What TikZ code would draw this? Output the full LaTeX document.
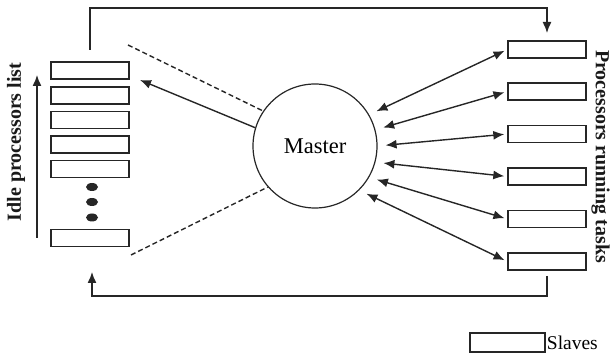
\documentclass[tikz,border=0pt]{standalone}
\usepackage{fontspec}
\setmainfont{Liberation Serif}
\usetikzlibrary{arrows.meta,calc}
\begin{document}
\begin{tikzpicture}[x=1pt,y=1pt,
  ink/.style={draw=black!85},
  slot/.style={ink,line width=1.4pt,rectangle,minimum width=78pt,minimum height=17pt,inner sep=0pt},
  conn/.style={ink,line width=1.4pt},
  tip/.style={-{Latex[length=11pt,width=9pt]}},
  dtip/.style={{Latex[length=11pt,width=9pt]}-{Latex[length=11pt,width=9pt]}},
  lbl/.style={font=\bfseries\fontsize{20}{22}\selectfont,text=black!90,inner sep=0pt}
]
\useasboundingbox (0,0) rectangle (612,353);
% left idle list
\node[slot] (L1) at (90,282.5) {};
\node[slot] (L2) at (90,257.5) {};
\node[slot] (L3) at (90,233) {};
\node[slot] (L4) at (90,208.5) {};
\node[slot] (L5) at (90,184) {};
\node[slot] (L6) at (90,115) {};
\fill[black!85] (92,166) ellipse (6pt and 4pt);
\fill[black!85] (92,151) ellipse (6pt and 4pt);
\fill[black!85] (92,135.5) ellipse (6pt and 4pt);
% right running list
\node[slot] (R1) at (547,303.5) {};
\node[slot] (R2) at (547,261.5) {};
\node[slot] (R3) at (547,219) {};
\node[slot] (R4) at (547,176.5) {};
\node[slot] (R5) at (547,134) {};
\node[slot] (R6) at (547,91.5) {};
% master
\node[ink,line width=1.2pt,circle,minimum size=124pt,inner sep=0pt,font=\fontsize{22.5}{24}\selectfont] (M) at (315,207) {Master};
% labels
\node[lbl,rotate=90] (idle) at (16,211) {Idle processors list};
\node[lbl,rotate=-90] (run) at (600.5,196.5) {Processors running tasks};
% legend
\node[ink,line width=1.4pt,rectangle,minimum width=75pt,minimum height=19pt,inner sep=0pt] (leg) at (507.5,10.5) {};
\node[anchor=west,inner sep=0pt,font=\fontsize{19.5}{24}\selectfont] (slaves) at ([xshift=1pt]leg.east) {Slaves};
% coordinates
\coordinate (t0) at (90,303);
\coordinate (t1) at (90,345);
\coordinate (t2) at (547,345);
\coordinate (t3) at (547,320);
\coordinate (b0) at (547,77);
\coordinate (b1) at (547,57);
\coordinate (b2) at (92,57);
\coordinate (b3) at (92,81);
\coordinate (a0) at (37,115);
\coordinate (a1) at (37,278);
\coordinate (d1) at (128,308);
\coordinate (d2) at (131,98);
\coordinate (lt) at (140,273);
% connectors
\draw[conn,tip] (t0) -- (t1) -- (t2) -- (t3);
\draw[conn,tip] (b0) -- (b1) -- (b2) -- (b3);
\draw[conn,tip] (a0) -- (a1);
\draw[conn,dashed,dash pattern=on 5pt off 3pt] (d1) -- (M.146);
\draw[conn,dashed,dash pattern=on 5pt off 3pt] (d2) -- (M.221);
\draw[conn,tip] (M.163) -- (lt);
\draw[conn,dtip,shorten <=8pt,shorten >=3pt] (M.30) -- (R1.west);
\draw[conn,dtip,shorten <=8pt,shorten >=3pt] (M.15) -- (R2.west);
\draw[conn,dtip,shorten <=8pt,shorten >=3pt] (M.0) -- (R3.west);
\draw[conn,dtip,shorten <=8pt,shorten >=3pt] (M.-15) -- (R4.west);
\draw[conn,dtip,shorten <=8pt,shorten >=3pt] (M.-30) -- (R5.west);
\draw[conn,dtip,shorten <=8pt,shorten >=3pt] (M.-45) -- (R6.west);
\end{tikzpicture}
\end{document}
